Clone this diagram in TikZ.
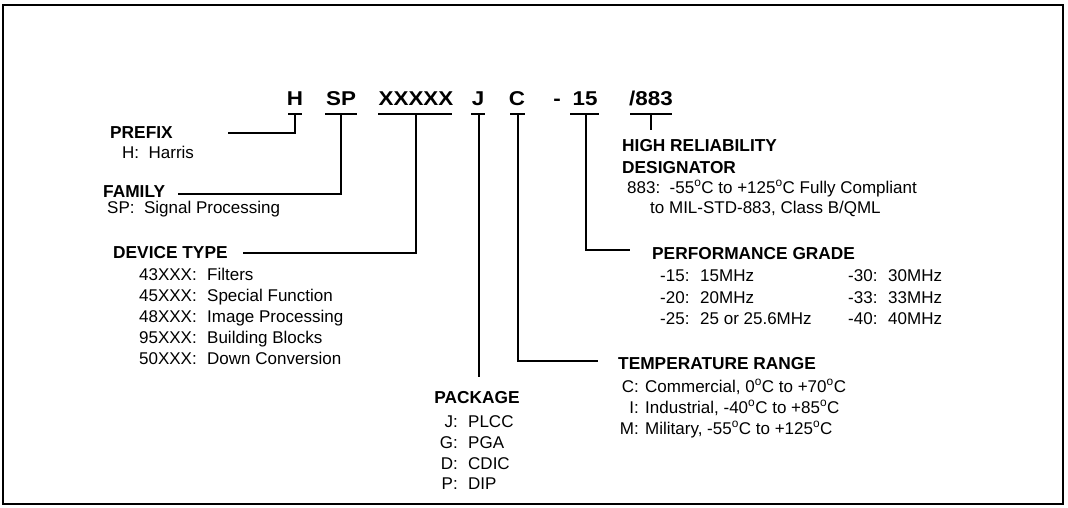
\documentclass[tikz,border=0pt]{standalone}
\usepackage{fontspec}
\setmainfont{Liberation Sans}
\newfontfamily\codefont{Liberation Sans}[FakeStretch=1.12]
\begin{document}
\begin{tikzpicture}[x=1pt,y=-1pt,
  code/.style={font=\codefont\fontsize{20}{20}\selectfont\bfseries, inner sep=0pt, anchor=base},
  head/.style={font=\fontsize{17.3}{19}\selectfont\bfseries, inner sep=0pt, anchor=base west},
  body/.style={font=\fontsize{17}{19}\selectfont, inner sep=0pt, anchor=base west},
  bodyr/.style={body, anchor=base east},
  conn/.style={line width=1.4pt},
  frame/.style={line width=2pt}]
\useasboundingbox (0,0) rectangle (1068,507);
\draw[frame] (3,5) rectangle (1063,504);

% part number
\node[code] (cH)   at (295,105) {H};
\node[code] (cSP)  at (341,105) {SP};
\node[code] (cX)   at (416,105) {XXXXX};
\node[code] (cJ)   at (478,105) {J};
\node[code] (cC)   at (517,105) {C};
\node[code] (cD)   at (557,105) {-};
\node[code] (c15)  at (585,105) {15};
\node[code] (c883) at (651,105) {/883};

% bars
\coordinate (bH) at (295,114);
\coordinate (bSP) at (341,114);
\coordinate (bX) at (416,114);
\coordinate (bJ) at (479,114);
\coordinate (bC) at (518,114);
\coordinate (b15) at (586,114);
\coordinate (b883) at (651,114);
\draw[conn] ([xshift=-7pt]bH) -- ([xshift=7pt]bH);
\draw[conn] ([xshift=-16pt]bSP) -- ([xshift=16pt]bSP);
\draw[conn] ([xshift=-38pt]bX) -- ([xshift=36pt]bX);
\draw[conn] ([xshift=-8pt]bJ) -- ([xshift=6pt]bJ);
\draw[conn] ([xshift=-8pt]bC) -- ([xshift=7pt]bC);
\draw[conn] ([xshift=-16pt]b15) -- ([xshift=13pt]b15);
\draw[conn] ([xshift=-21pt]b883) -- ([xshift=21pt]b883);

% prefix
\node[head] (prefix) at (110,138) {PREFIX};
\node[body] (prefixv) at (122,158) {H:\ \ Harris};
\coordinate (pH) at (228,133);
\draw[conn] (bH) |- (pH);

% family
\node[head] (family) at (103,197) {FAMILY};
\node[body] (familyv) at (107,213) {SP:\ \ Signal Processing};
\coordinate (pSP) at (178,194);
\draw[conn] (bSP) |- (pSP);

% device type
\node[head] (device) at (113,258) {DEVICE TYPE};
\coordinate (pX) at (243,253);
\draw[conn] (bX) |- (pX);
\node[bodyr] (d1) at (197,280) {43XXX:};
\node[body] (d1v) at (207,280) {Filters};
\node[bodyr] (d2) at (197,301) {45XXX:};
\node[body] (d2v) at (207,301) {Special Function};
\node[bodyr] (d3) at (197,322) {48XXX:};
\node[body] (d3v) at (207,322) {Image Processing};
\node[bodyr] (d4) at (197,343) {95XXX:};
\node[body] (d4v) at (207,343) {Building Blocks};
\node[bodyr] (d5) at (197,364) {50XXX:};
\node[body] (d5v) at (207,364) {Down Conversion};

% package
\coordinate (eJ) at (479,377);
\draw[conn] (bJ) -- (eJ);
\node[head, anchor=base] (package) at (477,403) {PACKAGE};
\node[bodyr] (k1) at (458,427) {J:};
\node[body] (k1v) at (468,427) {PLCC};
\node[bodyr] (k2) at (458,448) {G:};
\node[body] (k2v) at (468,448) {PGA};
\node[bodyr] (k3) at (458,469) {D:};
\node[body] (k3v) at (468,469) {CDIC};
\node[bodyr] (k4) at (458,489) {P:};
\node[body] (k4v) at (468,489) {DIP};

% temperature
\coordinate (pC) at (598,361);
\draw[conn] (bC) |- (pC);
\node[head] (temp) at (618,369) {TEMPERATURE RANGE};
\node[bodyr] (t1) at (639,392) {C:};
\node[body] (t1v) at (645,392) {Commercial, 0\textsuperscript{o}C to +70\textsuperscript{o}C};
\node[bodyr] (t2) at (639,413) {I:};
\node[body] (t2v) at (645,413) {Industrial, -40\textsuperscript{o}C to +85\textsuperscript{o}C};
\node[bodyr] (t3) at (639,434) {M:};
\node[body] (t3v) at (645,434) {Military, -55\textsuperscript{o}C to +125\textsuperscript{o}C};

% performance
\coordinate (p15) at (630,250);
\draw[conn] (b15) |- (p15);
\node[head] (perf) at (652,259) {PERFORMANCE GRADE};
\node[body] (g1) at (660,281) {-15:};
\node[body] (g1v) at (700,281) {15MHz};
\node[body] (g2) at (660,303) {-20:};
\node[body] (g2v) at (700,303) {20MHz};
\node[body] (g3) at (660,324) {-25:};
\node[body] (g3v) at (700,324) {25 or 25.6MHz};
\node[body] (g4) at (848,281) {-30:};
\node[body] (g4v) at (888,281) {30MHz};
\node[body] (g5) at (848,303) {-33:};
\node[body] (g5v) at (888,303) {33MHz};
\node[body] (g6) at (848,324) {-40:};
\node[body] (g6v) at (888,324) {40MHz};

% high reliability
\coordinate (e883) at (651,130);
\draw[conn] (b883) -- (e883);
\node[head] (hr1) at (622,151) {HIGH RELIABILITY};
\node[head] (hr2) at (622,173) {DESIGNATOR};
\node[body] (hr3) at (627,193) {883:\ \ -55\textsuperscript{o}C to +125\textsuperscript{o}C Fully Compliant};
\node[body] (hr4) at (650,213) {to MIL-STD-883, Class B/QML};
\end{tikzpicture}
\end{document}
